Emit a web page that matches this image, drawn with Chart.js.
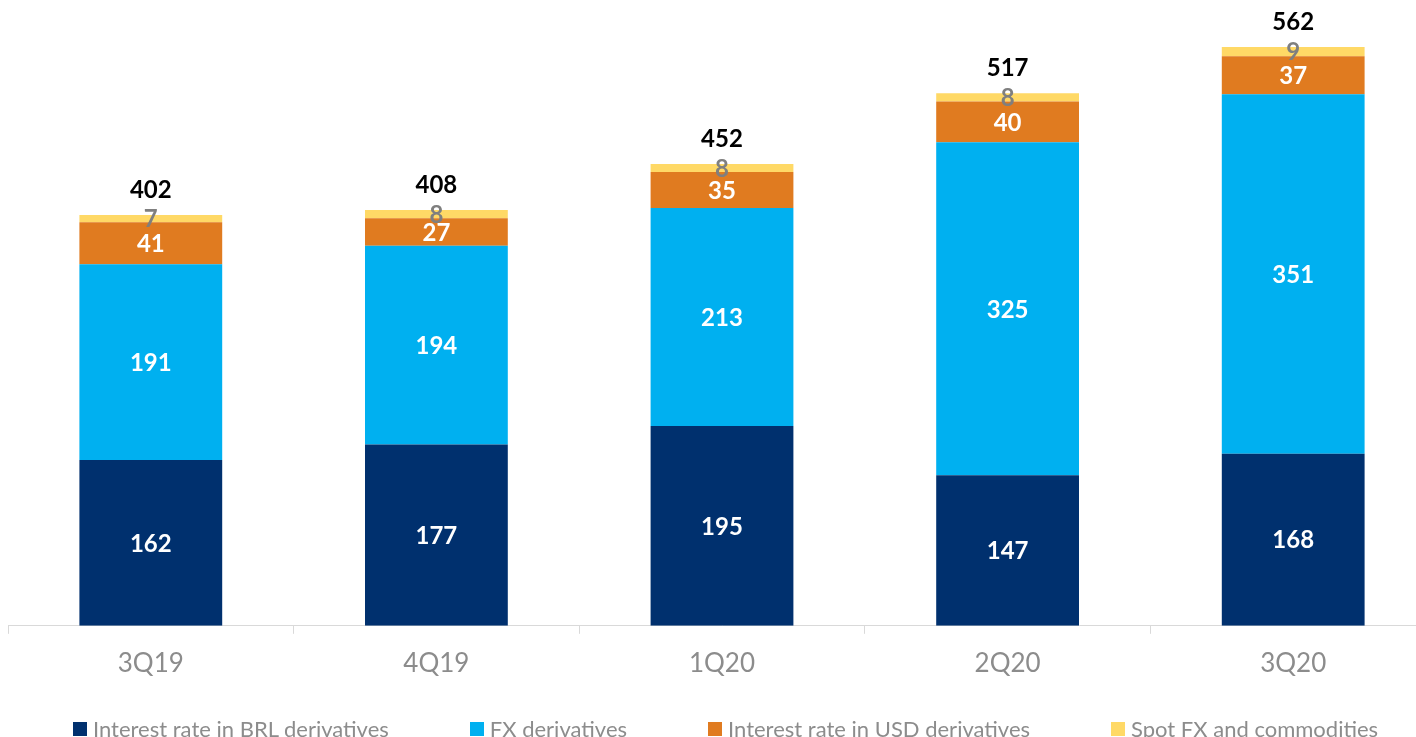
<!DOCTYPE html>
<html>
<head>
<meta charset="utf-8">
<script src="https://cdn.jsdelivr.net/npm/chart.js@4/dist/chart.umd.min.js"></script>
<style>
  html, body { margin: 0; padding: 0; background: #fff; overflow: hidden; }
  #wrap { position: relative; width: 1436px; height: 737px; }
  #legend {
    position: absolute; left: 73px; top: 715px;
    display: flex; align-items: center;
    font-family: Lato, sans-serif; font-size: 22px; color: #8c8c8c;
    white-space: nowrap;
  }
  #legend .item { display: flex; align-items: center; margin-right: 81px; }
  #legend .box { width: 14px; height: 14px; margin-right: 6px; }
</style>
</head>
<body>
<div id="wrap">
  <canvas id="volumeChart" width="1436" height="737"></canvas>
  <div id="legend"></div>
</div>
<script>
// Quarterly volumes by product
const quarters = ['3Q19', '4Q19', '1Q20', '2Q20', '3Q20'];
const brlRates = [162, 177, 195, 147, 168];
const fxDerivs = [191, 194, 213, 325, 351];
const usdRates = [41, 27, 35, 40, 37];
const spotFx = [7, 8, 8, 8, 9];
const totals = [402, 408, 452, 517, 562];

const seriesNames = [
    'Interest rate in BRL derivatives',
    'FX derivatives',
    'Interest rate in USD derivatives',
    'Spot FX and commodities'
];
const seriesColors = ['#00306e', '#00b0f0', '#e07b20', '#ffd966'];
const labelColors = ['#ffffff', '#ffffff', '#ffffff', '#7f7f7f'];

const barLabels = {
    id: 'barLabels',
    afterDatasetsDraw(chart) {
        const ctx = chart.ctx;
        ctx.save();
        ctx.textAlign = 'center';
        ctx.textBaseline = 'middle';
        ctx.font = 'bold 24px Lato, sans-serif';
        chart.data.datasets.forEach((ds, i) => {
            const meta = chart.getDatasetMeta(i);
            meta.data.forEach((bar, j) => {
                ctx.fillStyle = labelColors[i];
                ctx.fillText(ds.data[j], bar.x, (bar.y + bar.base) / 2 + 1);
            });
        });
        const top = chart.getDatasetMeta(chart.data.datasets.length - 1);
        ctx.fillStyle = '#000000';
        top.data.forEach((bar, j) => {
            ctx.fillText(totals[j], bar.x, bar.y - 25);
        });
        ctx.restore();
    }
};

document.addEventListener('DOMContentLoaded', function() {
    let volumeChart = document.getElementById('volumeChart');

    new Chart(volumeChart, {
        type: 'bar',
        data: {
            labels: quarters,
            datasets: [brlRates, fxDerivs, usdRates, spotFx].map((d, i) => ({
                label: seriesNames[i],
                data: d,
                backgroundColor: seriesColors[i],
                barPercentage: 0.5,
                categoryPercentage: 1
            }))
        },
        options: {
            responsive: false,
            animation: false,
            layout: { padding: { left: 8, right: 0, top: 0, bottom: 44 } },
            plugins: {
                legend: { display: false },
                tooltip: { enabled: false }
            },
            scales: {
                x: {
                    stacked: true,
                    grid: {
                        display: true,
                        drawOnChartArea: false,
                        drawTicks: true,
                        tickLength: 8,
                        color: '#d9d9d9'
                    },
                    border: { display: true, color: '#d9d9d9', width: 1 },
                    ticks: {
                        color: '#8c8c8c',
                        padding: 14,
                        font: { family: 'Lato, sans-serif', size: 26 }
                    }
                },
                y: {
                    stacked: true,
                    display: false,
                    min: 0,
                    max: 611
                }
            }
        },
        plugins: [barLabels]
    });

    let legend = document.getElementById('legend');
    seriesNames.forEach((name, i) => {
        let item = document.createElement('div');
        item.className = 'item';
        item.innerHTML = '<span class="box" style="background:' + seriesColors[i] + '"></span><span>' + name + '</span>';
        legend.appendChild(item);
    });
});
</script>
</body>
</html>
